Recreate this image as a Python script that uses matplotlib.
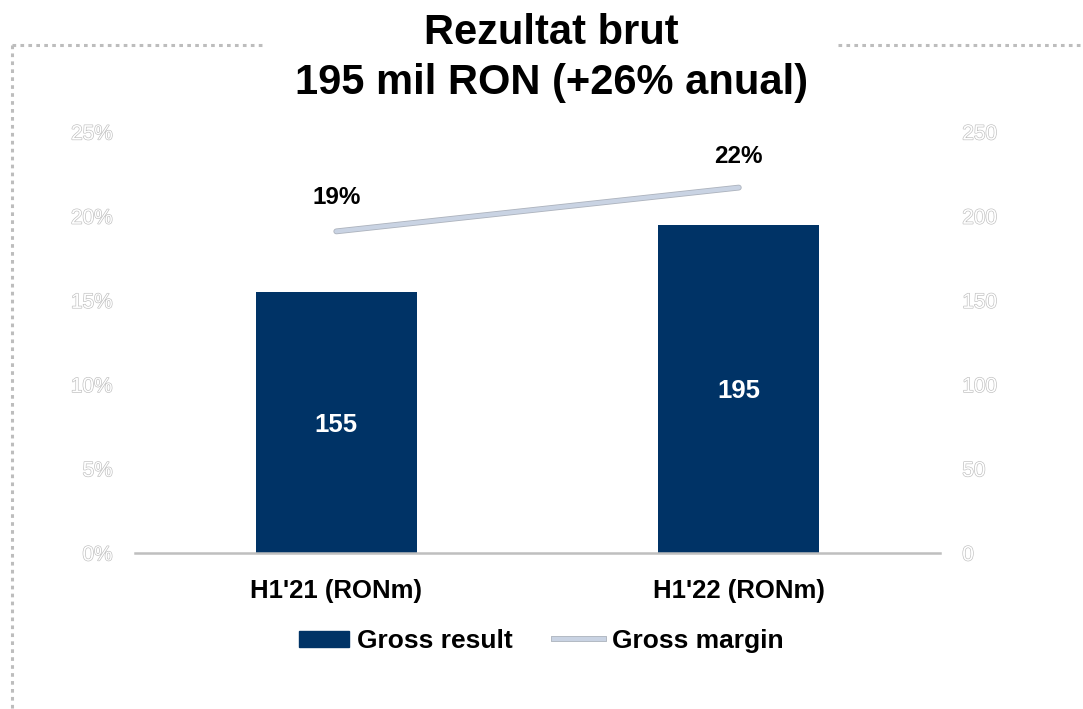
import matplotlib
matplotlib.use("Agg")
import matplotlib.pyplot as plt
import matplotlib.patheffects as pe
from matplotlib.lines import Line2D

plt.rcParams['font.family'] = ['Liberation Sans', 'DejaVu Sans']

# date
categories = ["H1'21 (RONm)", "H1'22 (RONm)"]
gross_result = [155, 195]
gross_margin = [19.1, 21.7]
margin_labels = ["19%", "22%"]
left_ticks = [0, 5, 10, 15, 20, 25]
right_ticks = [0, 50, 100, 150, 200, 250]

bar_color = '#003366'
line_color = '#C9D3E3'
line_edge = '#ADB3BD'

fig = plt.figure(figsize=(10.83, 7.09), dpi=100)
ax = fig.add_axes([0.1247, 0.22, 0.7433, 0.5938])
ax2 = ax.twinx()

x = list(range(len(categories)))

# bare pe axa din dreapta
ax2.bar(x, gross_result, width=0.4, color=bar_color, zorder=2)
for xi, v in zip(x, gross_result):
    ax2.text(xi, v / 2 - 1.5, str(v), ha='center', va='center', color='white',
             fontsize=18.5, fontweight='bold')
ax2.set_ylim(0, 250)
ax2.set_yticks(right_ticks)

# linia de marja pe axa din stanga
ax.set_zorder(ax2.get_zorder() + 1)
ax.patch.set_visible(False)
ax.plot(x, gross_margin, color=line_color, linewidth=3.0, solid_capstyle='round',
        path_effects=[pe.Stroke(linewidth=4.2, foreground=line_edge), pe.Normal()])
for xi, v, lab, off in zip(x, gross_margin, margin_labels, [24.5, 22.5]):
    ax.annotate(lab, (xi, v), xytext=(0, off), textcoords='offset points',
                ha='center', va='center', fontsize=17.5, fontweight='bold')
ax.set_ylim(0, 25)
ax.set_yticks(left_ticks)
ax.set_yticklabels([f"{t}%" for t in left_ticks])
ax.set_xlim(-0.5, 1.5)
ax.set_xticks(x)
ax.set_xticklabels(categories, fontsize=18.5, fontweight='bold')

hollow = [pe.Stroke(linewidth=0.9, foreground='#BDBDBD'), pe.Normal()]
for a in (ax, ax2):
    for s in a.spines.values():
        s.set_visible(False)
    a.tick_params(axis='y', length=0, pad=16, labelsize=15, labelcolor='white')
    for t in a.get_yticklabels():
        t.set_path_effects(hollow)
ax.spines['bottom'].set_visible(True)
ax.spines['bottom'].set_color('#BFBFBF')
ax.spines['bottom'].set_linewidth(1.8)
ax.tick_params(axis='x', length=0, pad=19)

# titlu
fig.text(0.509, 0.954, "Rezultat brut", ha='center', va='center',
         fontsize=30, fontweight='bold')
fig.text(0.509, 0.883, "195 mil RON (+26% anual)", ha='center', va='center',
         fontsize=30, fontweight='bold')

# chenar punctat
border = dict(color='#BDBDBD', linewidth=2.2, linestyle=(0, (1.2, 1.4)))
fig.add_artist(Line2D([0.011, 0.242], [0.937, 0.937], **border))
fig.add_artist(Line2D([0.774, 1.0], [0.937, 0.937], **border))
fig.add_artist(Line2D([0.011, 0.011], [0.937, 0.0], **border))

# legenda
handles = [plt.Rectangle((0, 0), 1, 1, color=bar_color),
           Line2D([], [], color=line_color, linewidth=3.0,
                  path_effects=[pe.Stroke(linewidth=4.2, foreground=line_edge), pe.Normal()])]
leg = fig.legend(handles, ['Gross result', 'Gross margin'], loc='center',
                 bbox_to_anchor=(0.5, 0.096), ncol=2, frameon=False,
                 prop={'size': 19, 'weight': 'bold'}, handlelength=1.9,
                 handleheight=0.55, handletextpad=0.3, columnspacing=1.55)

fig.savefig('out.png', dpi=100)
